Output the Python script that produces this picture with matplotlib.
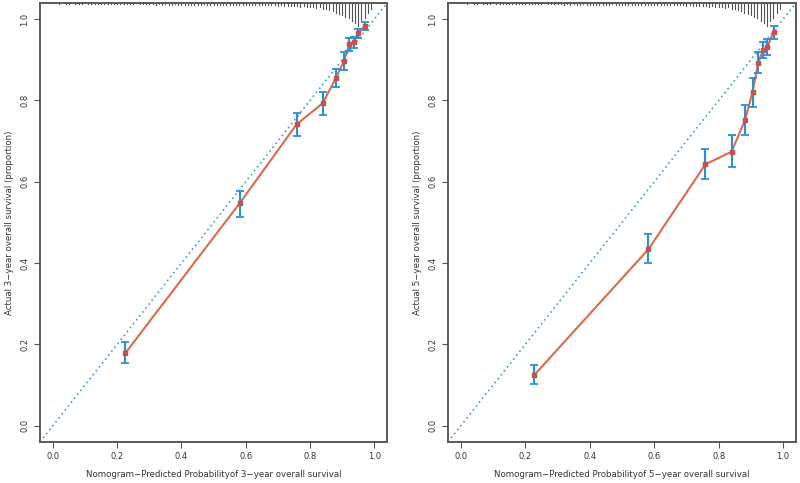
import numpy as np
import matplotlib.pyplot as plt

#%% Calibration data
pred = [0.225, 0.581, 0.758, 0.839, 0.881, 0.905, 0.922, 0.937, 0.950, 0.970]

obs_3y = [0.178, 0.547, 0.741, 0.793, 0.856, 0.896, 0.938, 0.944, 0.966, 0.983]
lo_3y = [0.155, 0.514, 0.713, 0.765, 0.833, 0.875, 0.921, 0.928, 0.953, 0.974]
hi_3y = [0.205, 0.578, 0.769, 0.821, 0.878, 0.918, 0.953, 0.957, 0.976, 0.992]

pred_5y = [0.227, 0.582, 0.759, 0.840, 0.882, 0.905, 0.923, 0.938, 0.950, 0.971]
obs_5y = [0.124, 0.434, 0.643, 0.674, 0.752, 0.821, 0.893, 0.925, 0.931, 0.969]
lo_5y = [0.103, 0.399, 0.607, 0.637, 0.716, 0.785, 0.867, 0.904, 0.911, 0.952]
hi_5y = [0.149, 0.471, 0.680, 0.714, 0.789, 0.856, 0.919, 0.944, 0.952, 0.983]

# distribution of predicted risk (spike histogram on top), bins 0.02 .. 0.99
spike_x = [round(0.02 + 0.01 * i, 2) for i in range(98)]
spike_h = [0.003, 0.000, 0.003, 0.003, 0.000, 0.003, 0.003, 0.003, 0.000, 0.003,
           0.003, 0.003, 0.003, 0.003, 0.003, 0.003, 0.003, 0.003, 0.003, 0.003,
           0.003, 0.003, 0.003, 0.003, 0.000, 0.003, 0.003, 0.003, 0.003, 0.003,
           0.004, 0.003, 0.004, 0.003, 0.004, 0.004, 0.003, 0.004, 0.004, 0.004,
           0.004, 0.004, 0.004, 0.004, 0.004, 0.003, 0.004, 0.004, 0.004, 0.004,
           0.005, 0.004, 0.005, 0.004, 0.005, 0.005, 0.004, 0.005, 0.005, 0.005,
           0.005, 0.006, 0.005, 0.006, 0.006, 0.006, 0.005, 0.006, 0.007, 0.006,
           0.007, 0.007, 0.008, 0.007, 0.008, 0.009, 0.008, 0.010, 0.009, 0.011,
           0.012, 0.011, 0.014, 0.016, 0.018, 0.020, 0.024, 0.027, 0.030, 0.034,
           0.038, 0.044, 0.050, 0.056, 0.045, 0.036, 0.026, 0.016]

xticks = [0.0, 0.2, 0.4, 0.6, 0.8, 1.0]
xlabels = ["Nomogram\u2212Predicted Probabilityof 3\u2212year overall survival",
           "Nomogram\u2212Predicted Probabilityof 5\u2212year overall survival"]
ylabels = ["Actual 3\u2212year overall survival (proportion)",
           "Actual 5\u2212year overall survival (proportion)"]

txt = '#333333'
fig = plt.figure(figsize=(8, 4.83), dpi=100)
axes = [fig.add_axes([0.05, 0.085, 0.434, 0.909]),
        fig.add_axes([0.56, 0.085, 0.435, 0.909])]

panels = [(pred, obs_3y, lo_3y, hi_3y), (pred_5y, obs_5y, lo_5y, hi_5y)]
for k, ax in enumerate(axes):
    px, py, lo, hi = panels[k]
    px = np.array(px); py = np.array(py)
    # ideal line
    ax.plot([-0.04, 1.04], [-0.04, 1.04], ls=(0, (1, 2)), color='#3d9be0', lw=1.2)
    # spike histogram hanging from the top
    for sx, sh in zip(spike_x, spike_h):
        if sh > 0:
            ax.plot([sx, sx], [1.04, 1.04 - sh], color='#555555', lw=0.8)
    ax.plot(px, py, color='#dc6a4c', lw=1.5)
    ax.errorbar(px, py, yerr=[py - np.array(lo), np.array(hi) - py], fmt='none',
                ecolor='#2a8fdb', elinewidth=1.5, capsize=3, capthick=1.3)
    ax.plot(px, py, 's', color='#c4524a', ms=3, mec='#c4524a')
    ax.set_xlim(-0.04, 1.04)
    ax.set_ylim(-0.04, 1.04)
    ax.set_xticks(xticks)
    ax.set_yticks(xticks)
    ax.set_xticklabels(['%.1f' % t for t in xticks])
    ax.set_yticklabels(['%.1f' % t for t in xticks], rotation=90, va='center')
    ax.tick_params(labelsize=6, colors=txt, length=4, width=0.8, color='#555555', pad=3.5)
    for s in ax.spines.values():
        s.set_color('#5a5a5a')
        s.set_linewidth(1.4)
    ax.set_xlabel(xlabels[k], fontsize=6.2, color=txt, labelpad=6)
    ax.set_ylabel(ylabels[k], fontsize=6.2, color=txt, labelpad=5)

plt.savefig('out.png', dpi=100)
